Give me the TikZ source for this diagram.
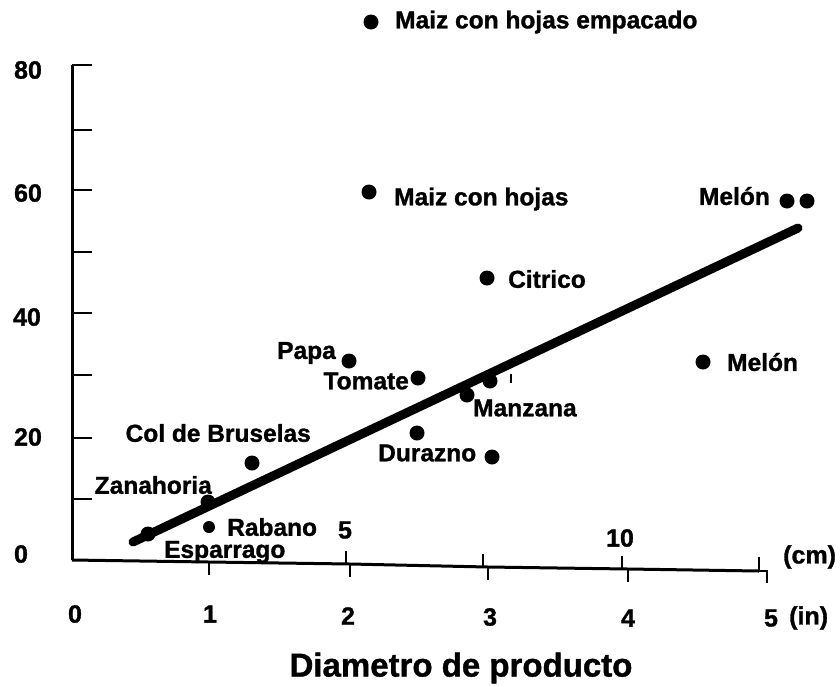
\documentclass[tikz,border=0pt]{standalone}
\usepackage{fontspec}
\setmainfont[BoldFeatures={FakeBold=1.2}]{Liberation Sans}
\begin{document}
\begin{tikzpicture}[x=1pt,y=-1pt,
  dot/.style={circle,fill=black,inner sep=0pt,minimum size=15pt},
  lbl/.style={font=\bfseries\fontsize{24.5}{24.5}\selectfont,inner sep=0pt},
  ynum/.style={font=\bfseries\fontsize{25}{25}\selectfont,inner sep=0pt},
  xnum/.style={font=\bfseries\fontsize{25}{25}\selectfont,inner sep=0pt},
  xnumb/.style={font=\bfseries\fontsize{25}{25}\selectfont,inner sep=0pt},
  axis/.style={line width=3pt},
  tick/.style={line width=2pt}]
\useasboundingbox (0,0) rectangle (840,686);
% y axis
\coordinate (ytop) at (72,65);
\coordinate (orig) at (72,560);
\draw[axis] (ytop) -- (orig);
\foreach \yy in {65,130,190,252,313,375,438,499}
  \draw[tick] (72,\yy) -- (92,\yy);
\node[ynum] (y80) at (28,70) {80};
\node[ynum] (y60) at (28,193) {60};
\node[ynum] (y40) at (27,317) {40};
\node[ynum] (y20) at (28,437) {20};
\node[ynum] (y0) at (21,554) {0};
% x axis
\coordinate (xend) at (759,571);
\draw[axis] (orig) -- (209,562) -- (350,564) -- (488,567) -- (628,569) -- (xend);
% inch ticks (down)
\draw[tick] (209,562) -- (209,575);
\draw[tick] (350,564) -- (350,577);
\draw[tick] (488,567) -- (488,580);
\draw[tick] (628,569) -- (628,582);
% cm ticks (up)
\draw[tick] (346,551) -- (346,564);
\draw[tick] (483,554) -- (483,567);
\draw[tick] (622,556) -- (622,569);
\draw[tick] (xend) -- (759,557);
\draw[tick] (xend) -- (767,571) -- (767,583);
% x labels
\node[xnum] (c5) at (345,530) {5};
\node[xnum] (c10) at (620,538) {10};
\node[xnum,anchor=west] (cm) at (783,557) {(cm)};
\node[xnumb] (i0) at (75,614) {0};
\node[xnumb] (i1) at (210,614) {1};
\node[xnum] (i2) at (348,616) {2};
\node[xnum] (i3) at (490,617) {3};
\node[xnum] (i4) at (628,618) {4};
\node[xnum] (i5) at (771,618) {5};
\node[xnum,anchor=west] (inch) at (789,618) {(in)};
\node[font=\bfseries\fontsize{33}{33}\selectfont,inner sep=0pt] (title) at (461,668) {Diametro de producto};
% regression line
\coordinate (l1) at (133,542);
\coordinate (l2) at (798,228);
\draw[line width=9pt,line cap=round] (l1) -- (l2);
% points
\node[dot] (p1) at (371,22) {};
\node[lbl,anchor=west] (t1) at (395,22) {Maiz con hojas empacado};
\node[dot] (p2) at (369,192) {};
\node[lbl,anchor=west] (t2) at (394,199) {Maiz con hojas};
\node[dot] (p3a) at (787,201) {};
\node[dot] (p3b) at (807,201) {};
\node[lbl,anchor=east] (t3) at (770,196) {Melón};
\node[dot] (p4) at (487,278) {};
\node[lbl,anchor=west] (t4) at (508,279) {Citrico};
\node[dot] (p5) at (703,362) {};
\node[lbl,anchor=west] (t5) at (727,362) {Melón};
\node[dot] (p6) at (349,361) {};
\node[lbl,anchor=east] (t6) at (336,353) {Papa};
\node[dot] (p7) at (418,378) {};
\node[lbl,anchor=east] (t7) at (409,381) {Tomate};
\node[dot] (p8) at (467,395) {};
\node[dot] (p9) at (490,381) {};
\draw[line width=1.5pt] (511,374) -- (511,383);
\node[lbl,anchor=west] (t8) at (473,408) {Manzana};
\node[dot] (p10) at (417,433) {};
\node[dot] (p11) at (492,457) {};
\node[lbl,anchor=west] (t10) at (378,453) {Durazno};
\node[dot] (p12) at (252,463) {};
\node[lbl,anchor=east] (t12) at (311,433) {Col de Bruselas};
\node[dot] (p13) at (208,502) {};
\node[lbl,anchor=east] (t13) at (212,485) {Zanahoria};
\node[dot,minimum size=12pt] (p14) at (209,527) {};
\node[lbl,anchor=west] (t14) at (227,527) {Rabano};
\node[dot] (p15) at (148,534) {};
\node[lbl,anchor=west] (t15) at (164,552) {Esparrago};
\end{tikzpicture}
\end{document}
